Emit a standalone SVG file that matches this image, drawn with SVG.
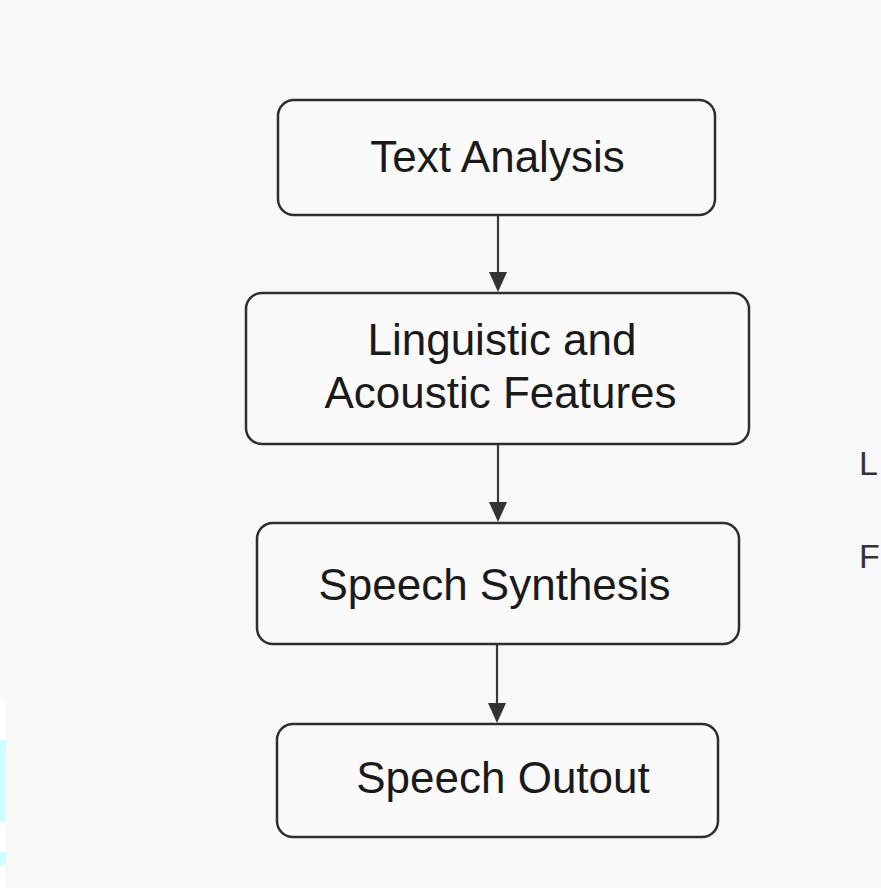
<svg xmlns="http://www.w3.org/2000/svg" width="881" height="888" viewBox="0 0 881 888">
<defs>
<style>
.box{fill:#fafafa;stroke:#2e2e2e;stroke-width:2.5}
.lbl{font-family:"Liberation Sans",Arial,sans-serif;fill:#1a1a1a;text-anchor:middle;font-size:44px}
.edge{stroke:#3a3a3a;stroke-width:2.2;fill:none}
.head{fill:#333}
.side{font-family:"Liberation Sans",Arial,sans-serif;fill:#333;font-size:34px}
</style>
</defs>
<rect width="881" height="888" fill="#f8f8f8"/>
<rect x="0" y="700" width="6" height="188" fill="#ffffff"/>
<rect x="0" y="740" width="6" height="82" fill="#ccffff"/>
<rect x="0" y="852" width="6" height="13" fill="#ccffff"/>
<g id="connectors">
<line class="edge" x1="498" y1="215" x2="498" y2="275"/>
<path class="head" d="M489,272 L507,272 L498,292 Z"/>
<line class="edge" x1="498" y1="444" x2="498" y2="505"/>
<path class="head" d="M489,502 L507,502 L498,522 Z"/>
<line class="edge" x1="497" y1="644" x2="497" y2="706"/>
<path class="head" d="M488,703 L506,703 L497,723 Z"/>
</g>
<g id="text-analysis">
<rect class="box" x="278" y="100" width="437" height="115" rx="16"/>
<text class="lbl" x="497.5" y="172">Text Analysis</text>
</g>
<g id="features">
<rect class="box" x="246" y="293" width="503" height="151" rx="16"/>
<text class="lbl" x="502" y="355">Linguistic and</text>
<text class="lbl" x="500.5" y="408">Acoustic Features</text>
</g>
<g id="synthesis">
<rect class="box" x="257" y="523" width="482" height="121" rx="16"/>
<text class="lbl" x="494.5" y="600">Speech Synthesis</text>
</g>
<g id="output">
<rect class="box" x="277" y="724" width="441" height="113" rx="16"/>
<text class="lbl" x="503" y="793">Speech Outout</text>
</g>
<text class="side" x="859" y="475">L</text>
<text class="side" x="859" y="568">F</text>
</svg>
